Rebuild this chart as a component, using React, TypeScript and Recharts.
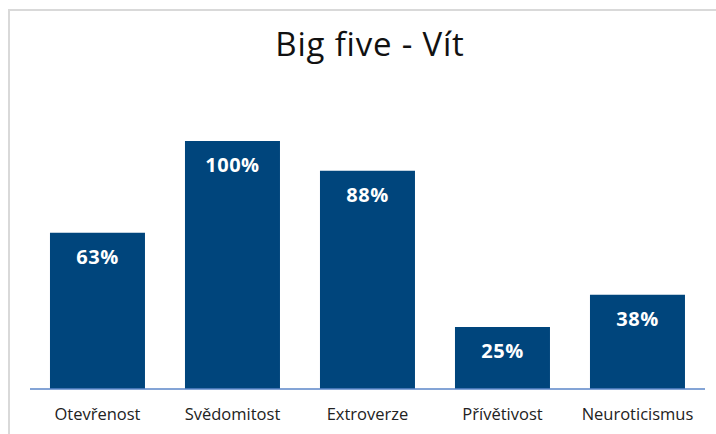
import React from 'react';
import { BarChart, Bar, XAxis, YAxis, LabelList } from 'recharts';

const categories = ['Otevřenost', 'Svědomitost', 'Extroverze', 'Přívětivost', 'Neuroticismus'];
const scores = [63, 100, 88, 25, 38];

const data = categories.map((name, i) => ({ name, value: scores[i] }));

const BAR_COLOR = '#00457C';

const ValueLabel = (props: any) => {
  const { x, y, width, value } = props;
  return (
    <text
      x={x + width / 2}
      y={y + 31}
      textAnchor="middle"
      fill="#ffffff"
      fontFamily="'Open Sans', sans-serif"
      fontWeight={700}
      fontSize={20}
      letterSpacing={0.5}
    >
      {value}%
    </text>
  );
};

const App: React.FC = () => {
  return (
    <div style={{ position: 'fixed', left: 0, top: 0, width: 716, height: 434, overflow: 'hidden', background: '#fff' }}>
      <div
        style={{
          position: 'absolute',
          left: 8,
          top: 9,
          width: 800,
          height: 500,
          border: '2px solid #d9d9d9',
          boxSizing: 'border-box',
        }}
      />
      <div
        style={{
          position: 'absolute',
          left: 0,
          top: 24,
          width: 740,
          textAlign: 'center',
          fontFamily: "'Open Sans', sans-serif",
          fontSize: 33,
          letterSpacing: 0.8,
          color: '#111',
          lineHeight: '40px',
        }}
      >
        Big five - Vít
      </div>
      <div style={{ position: 'absolute', left: 0, top: 0 }}>
        <BarChart
          width={716}
          height={434}
          data={data}
          margin={{ top: 141, right: 11, bottom: 15, left: 30 }}
          barCategoryGap="14.8%"
        >
          <XAxis
            dataKey="name"
            height={30}
            tickLine={false}
            axisLine={{ stroke: '#5B86C9', strokeWidth: 1.5 }}
            tick={{ fill: '#222', fontSize: 16.5, fontFamily: "'Open Sans', sans-serif" }}
            tickMargin={13}
            interval={0}
          />
          <YAxis hide domain={[0, 100]} />
          <Bar dataKey="value" fill={BAR_COLOR} isAnimationActive={false}>
            <LabelList dataKey="value" content={<ValueLabel />} />
          </Bar>
        </BarChart>
      </div>
    </div>
  );
};

export default App;
